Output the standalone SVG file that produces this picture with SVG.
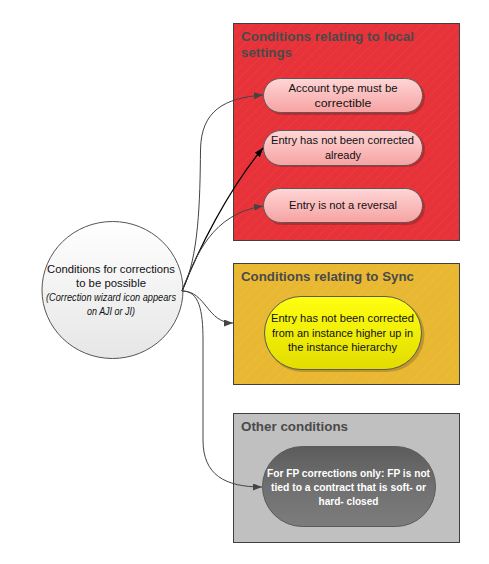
<svg xmlns="http://www.w3.org/2000/svg" width="489" height="564" viewBox="0 0 489 564">
<defs>
<style>
.box{stroke:#3f3f3f;stroke-width:1}
.title{font-family:"Liberation Sans",Arial,sans-serif;font-weight:bold;font-size:13.5px;fill:#4a4a4a}
.t{font-family:"Liberation Sans",Arial,sans-serif;font-size:11.5px;fill:#111;text-anchor:middle}
.tw{font-family:"Liberation Sans",Arial,sans-serif;font-size:11.5px;font-weight:bold;fill:#fff;text-anchor:middle}
.ti{font-family:"Liberation Sans",Arial,sans-serif;font-size:10px;font-style:italic;fill:#111;text-anchor:middle}
.pill{stroke:#5a5a5a;stroke-width:1}
.shadow{fill:#000;opacity:0.18}
.conn{fill:none;stroke:#444;stroke-width:1}
.connk{fill:none;stroke:#000;stroke-width:1.2}
</style>
<pattern id="stripes" width="7" height="7" patternUnits="userSpaceOnUse" patternTransform="rotate(45)">
<line x1="0" y1="0" x2="0" y2="7" stroke="#fff" stroke-width="1" opacity="0.1"/>
</pattern>
<linearGradient id="gPink" x1="0" y1="0" x2="0" y2="1">
<stop offset="0" stop-color="#ffd6d6"/><stop offset="1" stop-color="#f6a2a2"/>
</linearGradient>
<linearGradient id="gYel" x1="0" y1="0" x2="0" y2="1">
<stop offset="0" stop-color="#ffff10"/><stop offset="1" stop-color="#e2dc00"/>
</linearGradient>
<linearGradient id="gDark" x1="0" y1="0" x2="0" y2="1">
<stop offset="0" stop-color="#5c5c5c"/><stop offset="0.5" stop-color="#707070"/><stop offset="1" stop-color="#7c7c7c"/>
</linearGradient>
<linearGradient id="gCirc" x1="0" y1="0" x2="0" y2="1">
<stop offset="0" stop-color="#ffffff"/><stop offset="1" stop-color="#e6e6e6"/>
</linearGradient>
<marker id="arr" markerWidth="10" markerHeight="8" refX="9" refY="3.5" orient="auto" markerUnits="userSpaceOnUse">
<path d="M0,0 L9,3.5 L0,7 z" fill="#444"/>
</marker>
<marker id="arrk" markerWidth="10" markerHeight="8" refX="9" refY="3.5" orient="auto" markerUnits="userSpaceOnUse">
<path d="M0,0 L9,3.5 L0,7 z" fill="#000"/>
</marker>
</defs>
<rect width="489" height="564" fill="#fff"/>

<g id="local-settings">
<rect class="box" x="233.5" y="23.5" width="226" height="217" fill="#e63238"/>
<rect x="234" y="24" width="225" height="216" fill="url(#stripes)"/>
<text class="title" x="241" y="41" textLength="173" lengthAdjust="spacingAndGlyphs">Conditions relating to local</text>
<text class="title" x="241" y="57" textLength="51" lengthAdjust="spacingAndGlyphs">settings</text>
</g>

<g id="account-type">
<rect class="shadow" x="265" y="80" width="160" height="35" rx="17.5"/>
<rect class="pill" x="263.5" y="78.5" width="159" height="34" rx="17" fill="url(#gPink)"/>
<text class="t" x="343" y="92" textLength="109" lengthAdjust="spacingAndGlyphs">Account type must be</text>
<text class="t" x="343" y="107" textLength="57" lengthAdjust="spacingAndGlyphs">correctible</text>
</g>

<g id="not-corrected">
<rect class="shadow" x="265" y="132" width="160" height="35" rx="17.5"/>
<rect class="pill" x="263.5" y="130.5" width="159" height="35" rx="17.5" fill="url(#gPink)"/>
<text class="t" x="342.5" y="144" textLength="143" lengthAdjust="spacingAndGlyphs">Entry has not been corrected</text>
<text class="t" x="343" y="159" textLength="36" lengthAdjust="spacingAndGlyphs">already</text>
</g>

<g id="not-reversal">
<rect class="shadow" x="265" y="190" width="160" height="35" rx="17.5"/>
<rect class="pill" x="263.5" y="188.5" width="159" height="34" rx="17" fill="url(#gPink)"/>
<text class="t" x="343" y="209" textLength="108" lengthAdjust="spacingAndGlyphs">Entry is not a reversal</text>
</g>

<g id="sync">
<rect class="box" x="233.5" y="263.5" width="226" height="121" fill="#e9b832"/>
<rect x="234" y="264" width="225" height="120" fill="url(#stripes)"/>
<text class="title" x="241" y="281" textLength="173" lengthAdjust="spacingAndGlyphs">Conditions relating to Sync</text>
</g>

<g id="sync-entry">
<rect class="shadow" x="265.5" y="298" width="159" height="74" rx="37"/>
<rect class="pill" x="264.5" y="296.5" width="157" height="73" rx="36.5" fill="url(#gYel)"/>
<text class="t" x="342.5" y="322" textLength="143" lengthAdjust="spacingAndGlyphs">Entry has not been corrected</text>
<text class="t" x="342.5" y="337" textLength="141" lengthAdjust="spacingAndGlyphs">from an instance higher up in</text>
<text class="t" x="342.5" y="351" textLength="109" lengthAdjust="spacingAndGlyphs">the instance hierarchy</text>
</g>

<g id="other">
<rect class="box" x="233.5" y="413.5" width="226" height="129" fill="#c0c0c0"/>
<text class="title" x="241" y="431" textLength="107" lengthAdjust="spacingAndGlyphs">Other conditions</text>
</g>

<g id="fp">
<rect class="pill" x="262.5" y="446.5" width="173" height="80" rx="40" fill="url(#gDark)"/>
<text class="tw" x="348.5" y="477" textLength="163" lengthAdjust="spacingAndGlyphs">For FP corrections only: FP is not</text>
<text class="tw" x="348.5" y="491" textLength="155" lengthAdjust="spacingAndGlyphs">tied to a contract that is soft- or</text>
<text class="tw" x="348.5" y="505" textLength="60" lengthAdjust="spacingAndGlyphs">hard- closed</text>
</g>

<g id="start">
<ellipse cx="112.5" cy="290" rx="70.5" ry="68.5" fill="url(#gCirc)" stroke="#555" stroke-width="1"/>
<text class="t" x="111" y="273" textLength="128" lengthAdjust="spacingAndGlyphs">Conditions for corrections</text>
<text class="t" x="111" y="287" textLength="70" lengthAdjust="spacingAndGlyphs">to be possible</text>
<text class="ti" x="111" y="301" textLength="130" lengthAdjust="spacingAndGlyphs">(Correction wizard icon appears</text>
<text class="ti" x="111" y="315" textLength="48" lengthAdjust="spacingAndGlyphs">on AJI or JI)</text>
</g>

<g id="connectors">
<path class="conn" d="M182,291 C199,258 200,200 200.5,150 C201,110 225,98 263,95" marker-end="url(#arr)"/>
<path class="connk" d="M182,291 C198,250 228,190 263,148" marker-end="url(#arrk)"/>
<path class="conn" d="M182,291 C196,255 212,214 263,206" marker-end="url(#arr)"/>
<path class="conn" d="M182,291 C206,291 207,323 233,323" marker-end="url(#arr)"/>
<path class="conn" d="M182,291 C199,291 203,310 203,340 L203,440 C203,475 225,487 262,487" marker-end="url(#arr)"/>
</g>
</svg>
